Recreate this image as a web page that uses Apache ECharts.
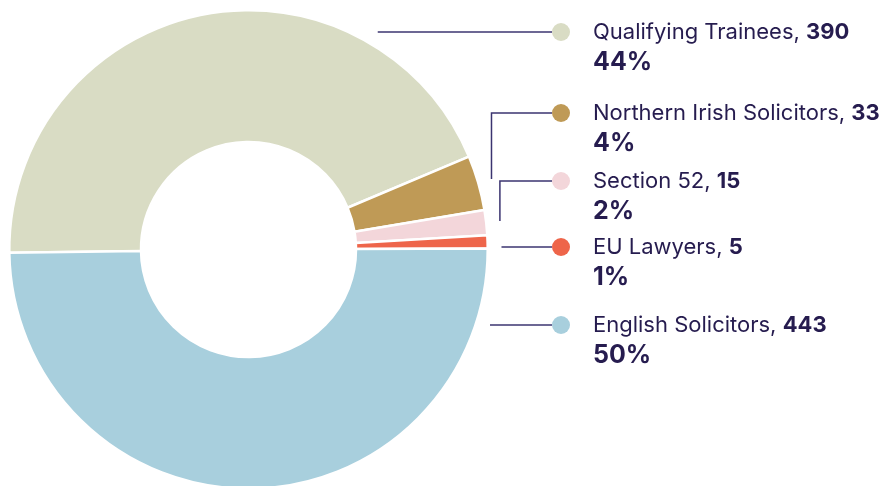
<!DOCTYPE html>
<html><head><meta charset="utf-8">
<script src="https://cdn.jsdelivr.net/npm/echarts@6/dist/echarts.min.js"></script>
<style>html,body{margin:0;padding:0;background:#fff}#c{width:894px;height:486px}</style>
</head><body><div id="c"></div>
<script>
const categories = ['Qualifying Trainees', 'Northern Irish Solicitors', 'Section 52', 'EU Lawyers', 'English Solicitors'];
const values = [390, 33, 15, 5, 443];
const colors = ['#d9dcc4', '#bf9a56', '#f3d6da', '#ee654a', '#a8cfdd'];

// layout (not data)
const CX = 248.5, CY = 249.5, R0 = 107.5, R = 239.2, START = 180.8, MIN_ANGLE = 3.2;
const LINE_R = 253;
const labelY = [32, 113, 181, 247, 325];
const DOT_X = 552;
const TEXT = '#261c4f';
const LINE = '#3b3470';

const total = values.reduce((a, b) => a + b, 0);
const pct = values.map(v => Math.round(v / total * 100));

// replicate the pie's angle layout (incl. minAngle) to place label lines
const spans = values.map(v => v / total * 360);
let rest = 360, bigSum = 0;
spans.forEach((s, i) => { if (s < MIN_ANGLE) rest -= MIN_ANGLE; else bigSum += values[i]; });
const finalSpans = spans.map((s, i) => s < MIN_ANGLE ? MIN_ANGLE : rest * values[i] / bigSum);
let acc = START; const ranges = [];
finalSpans.forEach(span => { ranges.push([acc - span, acc]); acc -= span; });

function linePoints(i) {
  const ty = labelY[i];
  const lo = ranges[i][0], hi = ranges[i][1];
  const mid = (lo + hi) / 2 * Math.PI / 180;
  const mx = CX + LINE_R * Math.cos(mid), my = CY - LINE_R * Math.sin(mid);
  const dy = CY - ty;
  if (Math.abs(dy) < LINE_R) {
    const ang = Math.asin(dy / LINE_R) * 180 / Math.PI;
    if ((ang >= lo && ang <= hi) || Math.abs(my - ty) < 8) {
      const x = CX + Math.sqrt(LINE_R * LINE_R - dy * dy);
      return [[x, ty], [x, ty], [DOT_X, ty]];
    }
  }
  return [[mx, my], [mx, ty], [DOT_X, ty]];
}

const rich = {
  gap: { width: 23 },
  ind: { width: 41 },
  name: { fontFamily: 'Inter', fontSize: 22, color: TEXT, lineHeight: 28 },
  val: { fontFamily: 'Inter', fontSize: 22, fontWeight: 'bold', color: TEXT, lineHeight: 28 },
  pct: { fontFamily: 'Inter', fontSize: 25, fontWeight: 'bold', color: TEXT, lineHeight: 33 }
};
colors.forEach((c, i) => { rich['dot' + i] = { width: 18, height: 18, borderRadius: 9, backgroundColor: c }; });

const chart = echarts.init(document.getElementById('c'));
chart.setOption({
  animation: false,
  backgroundColor: '#fff',
  series: [{
    type: 'pie',
    center: [CX, CY],
    radius: [R0, R],
    startAngle: START,
    minAngle: MIN_ANGLE,
    clockwise: true,
    avoidLabelOverlap: false,
    emphasis: { scale: false },
    itemStyle: { borderColor: '#fff', borderWidth: 2.5 },
    data: categories.map((n, i) => ({ name: n, value: values[i], itemStyle: { color: colors[i] } })),
    label: {
      show: true,
      position: 'outside',
      formatter: p => `{dot${p.dataIndex}|}{gap|}{name|${p.name}, }{val|${p.value}}\n{ind|}{pct|${pct[p.dataIndex]}%}`,
      rich: rich
    },
    labelLine: { show: true, length: 0, length2: 0, smooth: false, lineStyle: { color: LINE, width: 1.5 } },
    labelLayout: params => ({
      x: DOT_X,
      y: labelY[params.dataIndex] - 14,
      align: 'left',
      verticalAlign: 'top',
      labelLinePoints: linePoints(params.dataIndex)
    })
  }]
});
</script></body></html>
